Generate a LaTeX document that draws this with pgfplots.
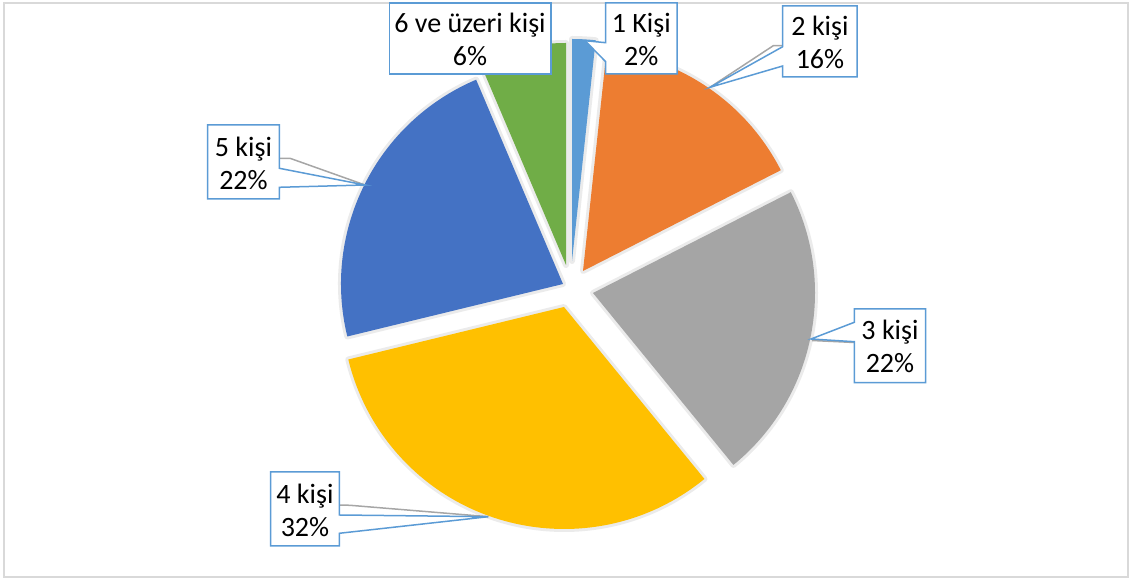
\documentclass[border=0pt]{standalone}
\usepackage{pgfplots}
\pgfplotsset{compat=1.18}
\usepackage{pgfplotstable}
\usepackage{fontspec}
\setmainfont{Carlito}
\definecolor{s0}{HTML}{5B9BD5}
\definecolor{s1}{HTML}{ED7D31}
\definecolor{s2}{HTML}{A5A5A5}
\definecolor{s3}{HTML}{FFC000}
\definecolor{s4}{HTML}{4472C4}
\definecolor{s5}{HTML}{70AD47}
\definecolor{callout}{HTML}{5B9BD5}
\definecolor{leader}{HTML}{A6A6A6}
\definecolor{frame}{HTML}{D9D9D9}

% slice values (percent) and the position (px) of each exploded slice's tip
\pgfplotstableread[col sep=comma]{
value,tipx,tipy
1.7,572,261
15.8,583,271
21.6,593,293
32.1,564,307
22.4,563,284
6.4,566,265
}\piedata

\newcommand\pv[2]{\csname pie#1#2\endcsname}
\tikzset{
  callout/.style={draw=callout, fill=white, line width=0.75pt, line join=miter},
  lead/.style={draw=leader, line width=0.75pt},
  lab/.style={align=center, font=\fontsize{14}{16.5}\selectfont, text=black, inner sep=0pt},
}

\begin{document}
\begin{tikzpicture}
\xdef\cum{0}
\foreach \i in {0,...,5}{
  \pgfplotstablegetelem{\i}{value}\of\piedata \let\v\pgfplotsretval
  \pgfplotstablegetelem{\i}{tipx}\of\piedata \let\tx\pgfplotsretval
  \pgfplotstablegetelem{\i}{tipy}\of\piedata \let\ty\pgfplotsretval
  \pgfmathsetmacro\aS{90-3.6*\cum}
  \pgfmathsetmacro\newcum{\cum+\v}
  \pgfmathsetmacro\aE{90-3.6*\newcum}
  \xdef\cum{\newcum}
  \expandafter\xdef\csname pieS\i\endcsname{\aS}
  \expandafter\xdef\csname pieE\i\endcsname{\aE}
  \expandafter\xdef\csname pieX\i\endcsname{\tx}
  \expandafter\xdef\csname pieY\i\endcsname{\ty}
}
\begin{axis}[x=0.5pt, y=0.5pt, xmin=0, xmax=1132, ymin=0, ymax=581,
  y dir=reverse, hide axis, clip=false]
  \path (axis cs:0,0) rectangle (axis cs:1132,581);
  \draw[frame, line width=1pt] (axis cs:4,3) rectangle (axis cs:1128,577);
  % soft halo
  \pgfplotsinvokeforeach{0,...,5}{
    \draw[black!8, line width=3pt, line join=round]
      (axis cs:\pv{X}{#1},\pv{Y}{#1}) -- ++(\pv{S}{#1}:111pt)
      arc[start angle=\pv{S}{#1}, end angle=\pv{E}{#1}, radius=111pt] -- cycle;
  }
  % slices
  \pgfplotsinvokeforeach{0,...,5}{
    \fill[s#1]
      (axis cs:\pv{X}{#1},\pv{Y}{#1}) -- ++(\pv{S}{#1}:111pt)
      arc[start angle=\pv{S}{#1}, end angle=\pv{E}{#1}, radius=111pt] -- cycle;
  }
  % leader lines
  \draw[lead] (axis cs:710,87.3) -- (axis cs:773.3,45.7) -- (axis cs:782.7,45.7);
  \draw[lead] (axis cs:812,340.5) -- (axis cs:854.3,342.5);
  \draw[lead] (axis cs:339.3,505) -- (axis cs:350,505.3) -- (axis cs:488.3,516.7);
  \draw[lead] (axis cs:279.3,158.3) -- (axis cs:290,158.3) -- (axis cs:365,185);
  % callouts
  \draw[callout] (axis cs:389.3,3) -- (axis cs:551,3) -- (axis cs:551,74) -- (axis cs:389.3,74) -- cycle;
  \node[lab] at (axis cs:470,39) {6 ve üzeri kişi\\6\%};
  \draw[callout] (axis cs:605.7,3) -- (axis cs:677,3) -- (axis cs:677,74) -- (axis cs:605.7,74)
     -- (axis cs:605.7,61.7) -- (axis cs:585,40.7) -- (axis cs:605.7,42.7) -- cycle;
  \node[lab] at (axis cs:641.3,39) {1 Kişi\\2\%};
  \draw[callout] (axis cs:782.7,6) -- (axis cs:857,6) -- (axis cs:857,77) -- (axis cs:782.7,77)
     -- (axis cs:782.7,66) -- (axis cs:710,87.3) -- (axis cs:782.7,46.7) -- cycle;
  \node[lab] at (axis cs:820,42) {2 kişi\\16\%};
  \draw[callout] (axis cs:854.3,309) -- (axis cs:925.7,309) -- (axis cs:925.7,382.7) -- (axis cs:854.3,382.7)
     -- (axis cs:854.3,341.7) -- (axis cs:811,339) -- (axis cs:854.3,322.3) -- cycle;
  \node[lab] at (axis cs:890,346.5) {3 kişi\\22\%};
  \draw[callout] (axis cs:270.7,472) -- (axis cs:339.3,472) -- (axis cs:339.3,515) -- (axis cs:488.3,516.7)
     -- (axis cs:339.3,533.3) -- (axis cs:339.3,546) -- (axis cs:270.7,546) -- cycle;
  \node[lab] at (axis cs:305,510) {4 kişi\\32\%};
  \draw[callout] (axis cs:207.7,125) -- (axis cs:279.3,125) -- (axis cs:279.3,168.3) -- (axis cs:365,185)
     -- (axis cs:279.3,187.3) -- (axis cs:279.3,199) -- (axis cs:207.7,199) -- cycle;
  \node[lab] at (axis cs:243.5,163) {5 kişi\\22\%};
\end{axis}
\end{tikzpicture}
\end{document}
